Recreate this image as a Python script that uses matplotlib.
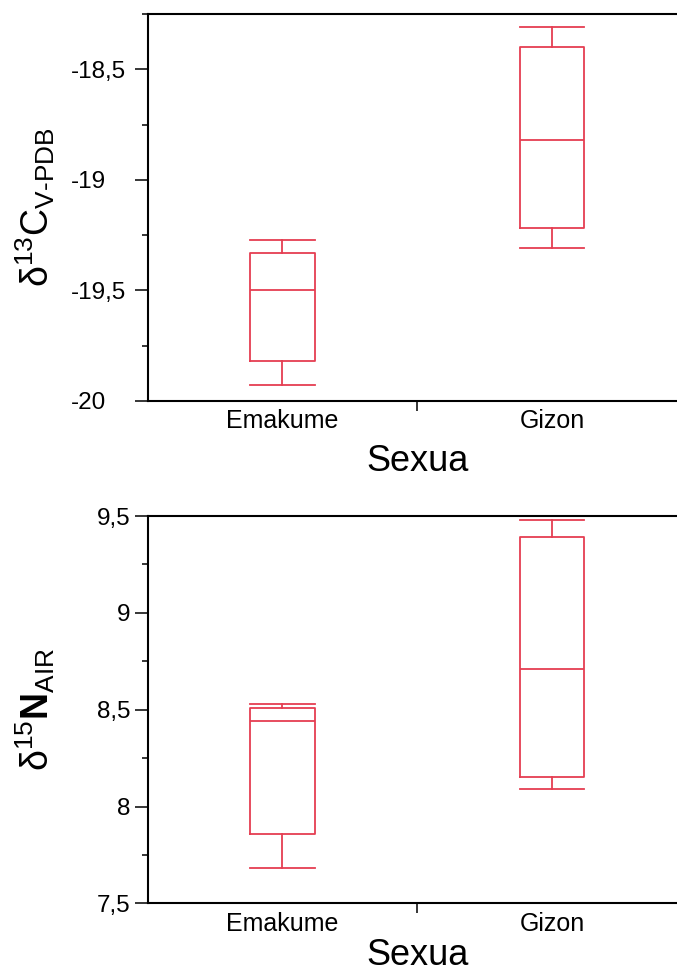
import matplotlib
matplotlib.use("Agg")
import matplotlib.pyplot as plt
from matplotlib.ticker import MultipleLocator

plt.rcParams["font.family"] = ["Liberation Sans", "DejaVu Sans"]
plt.rcParams["mathtext.fontset"] = "custom"
plt.rcParams["mathtext.rm"] = "Liberation Sans"
plt.rcParams["mathtext.it"] = "Liberation Sans:italic"
plt.rcParams["mathtext.bf"] = "Liberation Sans:bold"

# Categories
groups = ["Emakume", "Gizon"]

# delta13C (V-PDB) box statistics per group
c_whislo = [-19.93, -19.31]
c_q1 = [-19.82, -19.22]
c_med = [-19.50, -18.82]
c_q3 = [-19.33, -18.40]
c_whishi = [-19.27, -18.31]

# delta15N (AIR) box statistics per group
n_whislo = [7.68, 8.09]
n_q1 = [7.86, 8.15]
n_med = [8.44, 8.71]
n_q3 = [8.51, 9.39]
n_whishi = [8.53, 9.48]

# Tick labels (comma decimal separator)
c_ticks = [-20, -19.5, -19, -18.5]
c_ticklabels = ["-20", "-19,5", "-19", "-18,5"]
n_ticks = [7.5, 8, 8.5, 9, 9.5]
n_ticklabels = ["7,5", "8", "8,5", "9", "9,5"]

RED = "#E53E52"
BOX_W = 0.24

fig = plt.figure(figsize=(6.77, 9.73), dpi=100)
ax1 = fig.add_axes([0.2182, 0.5879, 0.796, 0.3977])
ax2 = fig.add_axes([0.2182, 0.0716, 0.796, 0.3980])


def make_stats(lo, q1, med, q3, hi):
    return [dict(whislo=a, q1=b, med=c, q3=d, whishi=e, fliers=[])
            for a, b, c, d, e in zip(lo, q1, med, q3, hi)]


def draw_panel(ax, stats, ylim, ticks, ticklabels, ylabel, left_labels,
               xlabel_pad):
    line = dict(color=RED, linewidth=1.3)
    ax.bxp(stats, positions=[1, 2], widths=BOX_W, capwidths=BOX_W,
           showfliers=False, boxprops=line, whiskerprops=line,
           capprops=line, medianprops=line)
    ax.set_xlim(0.5, 2.5)
    ax.set_ylim(*ylim)
    ax.set_yticks(ticks, ticklabels)
    ax.yaxis.set_minor_locator(MultipleLocator(0.25))
    ax.tick_params(axis="y", which="major", direction="out", length=9.5,
                   width=1.1, pad=45.5 if left_labels else 3,
                   labelsize=17.5)
    if left_labels:
        for lab in ax.get_yticklabels():
            lab.set_horizontalalignment("left")
    ax.tick_params(axis="y", which="minor", direction="out", length=4.5,
                   width=1.1)
    # single separator tick between the categories, labels carried by minor ticks
    ax.set_xticks([1.5], [""])
    ax.set_xticks([1, 2], groups, minor=True)
    ax.tick_params(axis="x", which="major", direction="out", length=7,
                   width=1.1)
    ax.tick_params(axis="x", which="minor", length=0, pad=6, labelsize=18)
    for sp in ax.spines.values():
        sp.set_linewidth(1.5)
    ax.spines["right"].set_visible(False)
    ax.set_xlabel("Sexua", fontsize=26, labelpad=xlabel_pad)
    ax.set_ylabel(ylabel, fontsize=27)
    ax.yaxis.set_label_coords(-0.168, 0.5)


draw_panel(ax1, make_stats(c_whislo, c_q1, c_med, c_q3, c_whishi),
           (-20, -18.25), c_ticks, c_ticklabels,
           r"δ$^{13}$C$_{\mathrm{V\text{-}PDB}}$", True, 8)
draw_panel(ax2, make_stats(n_whislo, n_q1, n_med, n_q3, n_whishi),
           (7.5, 9.5), n_ticks, n_ticklabels,
           r"δ$^{15}\mathbf{N}_{\mathrm{AIR}}$", False, 2)

fig.savefig("out.png", dpi=100)
